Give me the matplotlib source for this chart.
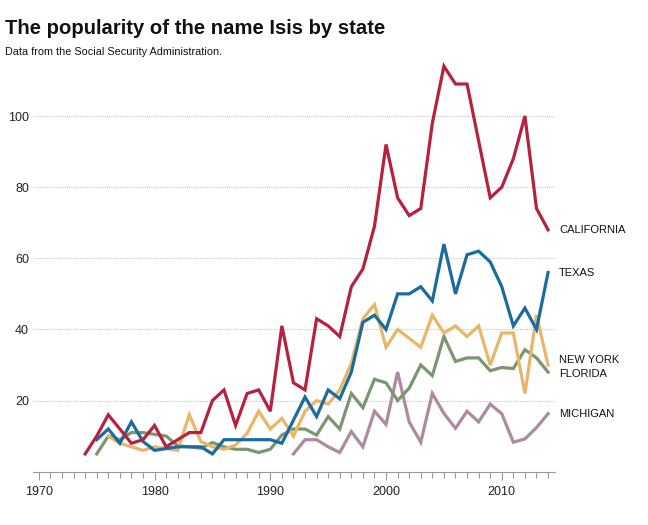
import numpy as np
import matplotlib.pyplot as plt
from matplotlib.ticker import MultipleLocator

plt.rcParams['font.family'] = ['Liberation Sans', 'DejaVu Sans']

# counts per year
years_ca = list(range(1974, 2015))
california = [5, 10, 16, 12, 8, 9, 13, 7, 9, 11, 11, 20, 23, 13, 22, 23, 17, 41, 25, 23,
              43, 41, 38, 52, 57, 69, 92, 77, 72, 74, 98, 114, 109, 109, 93, 77, 80, 88,
              100, 74, 68]

years_tx = list(range(1975, 2015))
texas = [9, 12, 8, 14, 8.5, 6, 6.5, 7, 7, 7, 5, 9, 9, 9, 9, 9, 8, 14.5, 21, 15.5,
         23, 20.5, 28, 42, 44, 40, 50, 50, 52, 48, 64, 50, 61, 62, 59, 52, 41, 46, 40, 56]

years_ny = list(range(1976, 2015))
new_york = [10, 8, 7, 6, 7, 6.5, 6, 16, 8.5, 7, 6.3, 7.5, 10.8, 17, 12, 15, 10, 17, 20,
            19, 23, 30.5, 43, 47, 35, 40, 37.5, 35, 44, 39, 41, 38, 41, 30, 39, 39, 22, 44, 30]

years_fl = list(range(1975, 2015))
florida = [5, 10, 9, 11, 11, 10.5, 10, 7.3, 7, 6.6, 8.2, 7, 6.3, 6.3, 5.4, 6.3, 10.3, 12,
           12, 10.3, 15.5, 12, 22, 18, 26, 25, 20, 23.5, 30, 27, 38, 31, 32, 32, 28.4,
           29.3, 29, 34.3, 32, 28]

years_mi = list(range(1992, 2015))
michigan = [5, 9, 9, 7, 5.4, 11.3, 7, 17, 13.3, 28, 14, 8.3, 22, 16.4, 12.2, 17, 14, 19,
            16.3, 8.3, 9.2, 12.4, 16.3]

series = [
    ('MICHIGAN', years_mi, michigan, '#ac8aa0', 0),
    ('FLORIDA', years_fl, florida, '#7b9670', -0.4),
    ('NEW YORK', years_ny, new_york, '#e9b668', 1.4),
    ('TEXAS', years_tx, texas, '#1b6c9e', 0),
    ('CALIFORNIA', years_ca, california, '#b5213f', 0),
]

fig = plt.figure(figsize=(6.48, 5.25), dpi=100)
ax = fig.add_axes([0.051, 0.1015, 0.8055, 0.7995])

for name, yrs, vals, col, nudge in series:
    ax.plot(yrs, vals, color=col, lw=2.3, solid_joinstyle='miter')
    ax.annotate(name, (yrs[-1], vals[-1] + nudge), xytext=(8, 0),
                textcoords='offset points', va='center', ha='left',
                fontsize=8, color='#111111', annotation_clip=False)

ax.set_xlim(1969.5, 2014.6)
ax.set_ylim(0, 118)
ax.set_yticks([20, 40, 60, 80, 100])
ax.xaxis.set_major_locator(MultipleLocator(10))
ax.xaxis.set_minor_locator(MultipleLocator(1))
ax.set_xticks(range(1970, 2011, 10))
ax.grid(axis='y', color='#c8c8c8', linestyle=(0, (1, 1)), linewidth=0.8)
ax.set_axisbelow(True)

for s in ['top', 'right', 'left']:
    ax.spines[s].set_visible(False)
ax.spines['bottom'].set_color('#9a9a9a')
ax.spines['bottom'].set_linewidth(0.8)

ax.tick_params(axis='y', length=0, pad=3, labelsize=9, labelcolor='#222222')
ax.tick_params(axis='x', which='major', length=5.5, width=0.8, color='#9a9a9a',
               labelsize=9, labelcolor='#222222', pad=5)
ax.tick_params(axis='x', which='minor', length=4, width=0.8, color='#9a9a9a')

fig.text(0.008, 0.935, 'The popularity of the name Isis by state', fontsize=14.6,
         fontweight='bold', va='baseline', ha='left', color='#111111')
fig.text(0.008, 0.896, 'Data from the Social Security Administration.', fontsize=7.8,
         va='baseline', ha='left', color='#111111')

fig.savefig('out.png', dpi=100)
